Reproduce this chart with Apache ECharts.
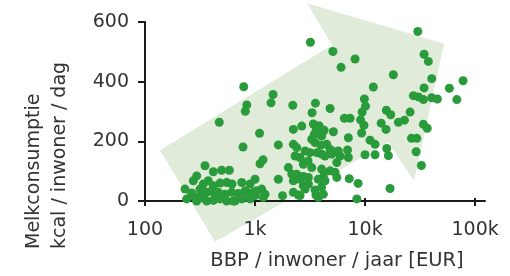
<!DOCTYPE html>
<html>
<head>
<meta charset="utf-8">
<script src="https://cdn.jsdelivr.net/npm/echarts@6/dist/echarts.min.js"></script>
<style>
  html, body { margin: 0; padding: 0; background: #fff; }
  #chart { width: 510px; height: 276px; }
</style>
</head>
<body>
<div id="chart"></div>
<script>
// BBP per inwoner (EUR) en melkconsumptie (kcal / inwoner / dag), per land
var gdp = [
  473, 789, 841, 816, 778, 351, 418, 498, 584, 295, 275, 376, 339, 418, 481, 553, 618, 757,
  231, 266, 316, 364, 404, 464, 534, 614, 705, 239, 295, 339, 418, 481, 553, 635, 757, 295,
  364, 658, 316, 266, 433, 811, 901, 1000, 966, 901, 841, 1150, 1190, 1035, 1233, 1000,
  1183, 1110, 1099, 1457, 1397, 1629, 1629, 1778, 2203, 2230, 2659, 2230, 2393, 2009, 2158,
  2393, 2230, 2565, 2477, 2230, 2311, 2565, 2748, 3030, 2748, 3055, 3185, 3540, 3300, 3388,
  3830, 4250, 3580, 3450, 4036, 5152, 4808, 5100, 8111, 6053, 6486, 7311, 9100, 7047, 9300,
  3275, 3508, 3970, 4487, 4808, 5152, 5715, 5929, 6930, 7047, 2851, 3162, 3639, 4036, 4325,
  4977, 3275, 4036, 4250, 4808, 5333, 5533, 5533, 3758, 4325, 3055, 2851, 3508, 4020, 4178,
  3580, 3758, 2565, 2748, 7180, 8414, 8640, 9400, 9862, 10100, 9760, 11890, 15600, 17100,
  25650, 14000, 15500, 20090, 22800, 33880, 36700, 11100, 12330, 26400, 29510, 15740, 16290,
  10000, 12330, 29110, 32500, 16870, 18070, 30130, 34360, 37580, 40360, 77800, 58340, 68230,
  34360, 27480, 30550, 33880, 40360, 45390, 4178
];
var milk = [
  264, 383, 322, 301, 181, 118, 98, 103, 103, 84, 68, 68, 57, 51, 60, 62, 57, 62,
  40, 27, 40, 29, 34, 29, 23, 29, 25, 7, 2, 10, 2, 7, 0, 0, 7, 0,
  0, 0, 18, 18, 18, 34, 57, 73, 29, 7, 29, 40, 12, 34, 23, 18,
  138, 125, 227, 357, 329, 188, 73, 18, 321, 240, 251, 190, 179, 112, 90,
  90, 68, 73, 20, 29, 151, 146, 123, 134, 82, 79, 532, 328, 296, 258,
  252, 237, 235, 222, 218, 232, 310, 501, 476, 448, 277, 277, 272, 212, 228,
  207, 196, 187, 190, 173, 165, 168, 151, 171, 146, 168, 162, 162, 157, 151,
  157, 112, 107, 96, 101, 96, 79, 129, 73, 68, 57, 40, 37, 46, 23,
  20, 12, 18, 51, 75, 7, 59, 298, 342, 318, 254, 382, 304, 289,
  298, 261, 240, 264, 271, 257, 244, 204, 190, 210, 210, 176, 152,
  155, 155, 165, 119, 42, 423, 568, 492, 468, 410, 403, 378, 340,
  379, 353, 349, 340, 346, 342, 79
];

// achtergrondpijl (hoekpunten in dezelfde eenheden als de assen)
var arrowX = [137, 5012, 2972, 52200, 27900, 16200, 433];
var arrowY = [170, 523, 663, 527, 67, 197, -137];

var xTicks = [100, 1000, 10000, 100000];

var FONT = 'DejaVu Sans';
var TXT = '#333';
var AXIS = '#1a1a1a';

var points = [];
for (var i = 0; i < gdp.length; i++) {
  points.push([gdp[i], milk[i]]);
}
var arrowPts = [];
for (var j = 0; j < arrowX.length; j++) {
  arrowPts.push([arrowX[j], arrowY[j]]);
}

function kLabel(v) {
  if (v >= 1000) return (v / 1000) + 'k';
  return '' + v;
}

var mychart = echarts.init(document.getElementById('chart'), null, {renderer: 'canvas'});

var option = {
  animation: false,
  backgroundColor: '#fff',
  grid: { left: 145, right: 25, top: 22, bottom: 74 },
  xAxis: [{
    type: 'log',
    logBase: 10,
    min: 100,
    max: 123000,
    axisLine: { show: true, lineStyle: { color: AXIS, width: 2 } },
    axisTick: { show: true, length: 5, customValues: xTicks, lineStyle: { color: AXIS, width: 2 } },
    axisLabel: {
      customValues: xTicks,
      formatter: kLabel,
      margin: 20,
      color: TXT,
      fontFamily: FONT,
      fontSize: 19
    },
    splitLine: { show: false },
    minorTick: { show: false },
    name: 'BBP / inwoner / jaar [EUR]',
    nameLocation: 'middle',
    nameGap: 50,
    nameTextStyle: { color: TXT, fontFamily: FONT, fontSize: 19.5, padding: [0, 0, 0, 44] }
  }, {
    type: 'log',
    logBase: 10,
    min: 100,
    max: 123000,
    position: 'bottom',
    axisLine: { show: false },
    axisTick: { show: true, inside: true, length: 3, customValues: xTicks, lineStyle: { color: AXIS, width: 2 } },
    axisLabel: { show: false },
    splitLine: { show: false }
  }],
  yAxis: {
    type: 'value',
    min: 0,
    max: 600,
    interval: 200,
    axisLine: { show: true, lineStyle: { color: AXIS, width: 2 } },
    axisTick: { show: true, length: 7, lineStyle: { color: AXIS, width: 2 } },
    axisLabel: { margin: 16, color: TXT, fontFamily: FONT, fontSize: 19 },
    splitLine: { show: false }
  },
  graphic: [{
    type: 'text',
    x: 21,
    y: 249,
    rotation: Math.PI / 2,
    style: {
      text: 'Melkconsumptie\nkcal / inwoner / dag',
      fill: TXT,
      font: '19px "DejaVu Sans"',
      lineHeight: 26,
      align: 'left',
      verticalAlign: 'top'
    }
  }],
  series: [{
    type: 'custom',
    z: -1,
    clip: false,
    silent: true,
    data: arrowPts,
    renderItem: function (params, api) {
      if (params.dataIndex !== 0) return null;
      var pts = [];
      for (var k = 0; k < arrowPts.length; k++) {
        pts.push(api.coord(arrowPts[k]));
      }
      return {
        type: 'polygon',
        shape: { points: pts },
        style: { fill: '#e0ebd9' }
      };
    }
  }, {
    type: 'scatter',
    z: 3,
    clip: false,
    symbolSize: 9,
    itemStyle: { color: '#299b3b', opacity: 1 },
    data: points
  }]
};

mychart.setOption(option);
</script>
</body>
</html>
